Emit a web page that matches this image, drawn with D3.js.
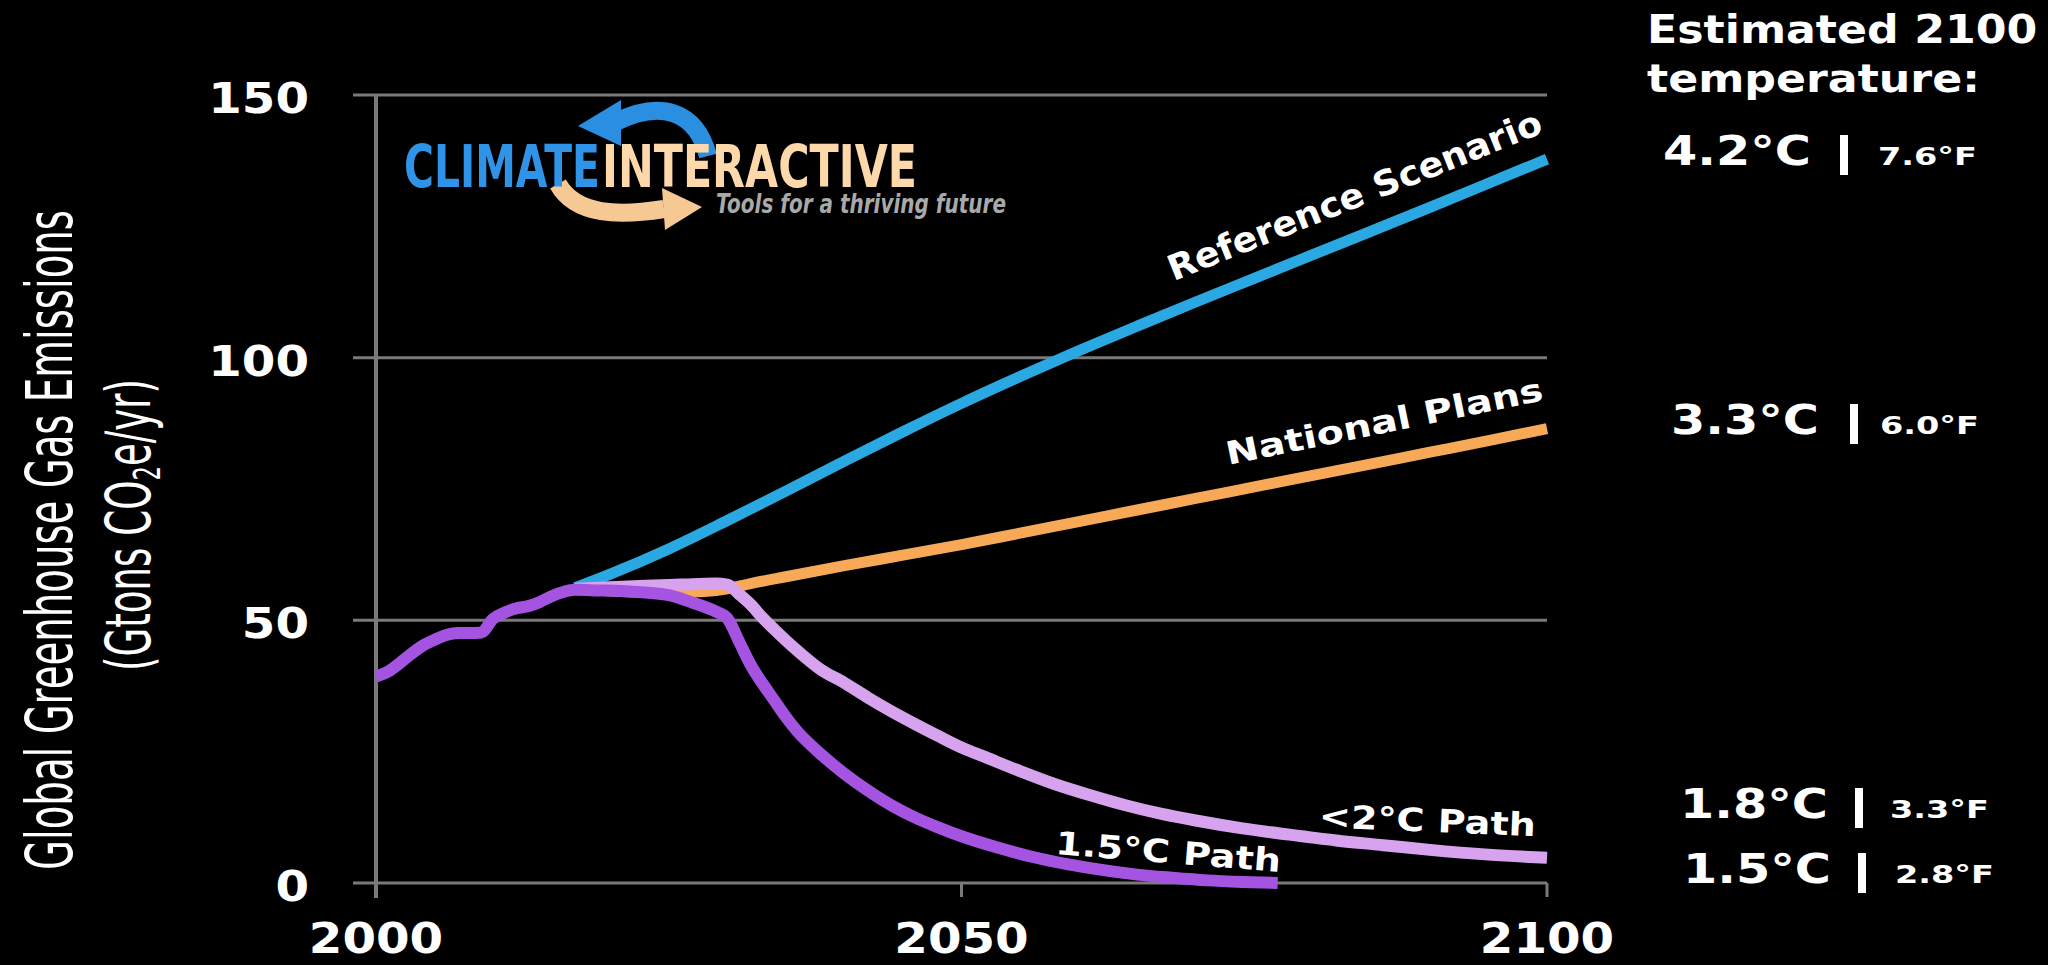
<!DOCTYPE html>
<html>
<head>
<meta charset="utf-8">
<script src="https://cdn.jsdelivr.net/npm/d3@7"></script>
<style>
  html, body { margin: 0; padding: 0; background: #000; overflow: hidden; }
  text { font-family: "DejaVu Sans", Verdana, sans-serif; fill: #fff; }
</style>
</head>
<body>
<div id="chart"></div>
<script>
// ---- Data ----
var xTicks = [2000, 2050, 2100];
var yTicks = [0, 50, 100, 150];

// 1.5°C path (includes history 2000-2017)
var years15 = [2000, 2001, 2002, 2003, 2004, 2005, 2006, 2007, 2008, 2009, 2010, 2011, 2012, 2013, 2014, 2015, 2016, 2017,
  2019, 2021, 2023, 2025, 2027, 2029, 2030, 2031, 2032, 2033, 2034, 2035, 2036, 2038, 2040, 2042, 2044, 2046, 2048, 2050,
  2053, 2056, 2059, 2062, 2065, 2068, 2071, 2074, 2077];
var values15 = [39.3, 40.2, 41.8, 43.6, 45.2, 46.3, 47.2, 47.6, 47.6, 47.7, 50.3, 51.5, 52.3, 52.7, 53.5, 54.6, 55.4, 55.8,
  55.7, 55.6, 55.3, 54.8, 53.4, 51.7, 50.4, 46.0, 41.5, 38.0, 34.8, 31.6, 28.8, 24.5, 20.8, 17.6, 14.8, 12.5, 10.6, 8.9,
  6.8, 5.0, 3.6, 2.5, 1.6, 1.0, 0.5, 0.2, 0.0];

// <2°C path
var years2 = [2017, 2020, 2023, 2026, 2029, 2030, 2031, 2032, 2033, 2034, 2035, 2036, 2038, 2040, 2042, 2044, 2046, 2048,
  2050, 2052, 2055, 2058, 2061, 2064, 2067, 2070, 2074, 2078, 2082, 2086, 2090, 2095, 2100];
var values2 = [56.0, 56.3, 56.6, 56.8, 57.0, 56.8, 55.0, 53.0, 50.5, 48.3, 46.2, 44.2, 40.6, 38.1, 35.3, 32.7, 30.3, 28.0,
  25.8, 24.0, 21.3, 18.8, 16.7, 14.8, 13.2, 11.9, 10.4, 9.2, 8.1, 7.2, 6.3, 5.4, 4.8];

// Reference scenario
var refYears = [2017, 2020, 2025, 2030, 2035, 2040, 2045, 2050, 2055, 2060, 2065, 2070, 2075, 2080, 2085, 2090, 2095, 2100];
var refValues = [56.2, 58.8, 63.6, 69.0, 74.6, 80.3, 85.9, 91.3, 96.4, 101.3, 106.0, 110.6, 115.1, 119.6, 124.1, 128.6, 133.2, 137.8];

// National plans
var planYears = [2017, 2020, 2025, 2028, 2030, 2032, 2035, 2040, 2045, 2050, 2055, 2060, 2065, 2070, 2075, 2080, 2085, 2090, 2095, 2100];
var planValues = [56.0, 55.6, 55.3, 55.5, 56.0, 57.0, 58.3, 60.4, 62.4, 64.4, 66.6, 68.8, 71.0, 73.2, 75.4, 77.6, 79.8, 82.0, 84.2, 86.5];

var seriesNames = ["Reference Scenario", "National Plans", "<2°C Path", "1.5°C Path"];
var tempC = ["4.2°C", "3.3°C", "1.8°C", "1.5°C"];
var tempF = ["7.6°F", "6.0°F", "3.3°F", "2.8°F"];

// ---- Layout ----
var width = 2048, height = 965;
var SX = 1.15;   // the reference is stretched horizontally

var svg = d3.select("#chart").append("svg")
    .attr("width", width)
    .attr("height", height)
    .style("background", "#000");

var x = d3.scaleLinear().domain([2000, 2100]).range([376, 1547]);
var y = d3.scaleLinear().domain([0, 150]).range([883, 95]);

function valueAt(yrs, vals, yr) {
  var i = d3.bisectLeft(yrs, yr);
  if (i <= 0) return vals[0];
  if (i >= yrs.length) return vals[vals.length - 1];
  var t = (yr - yrs[i - 1]) / (yrs[i] - yrs[i - 1]);
  return vals[i - 1] + t * (vals[i] - vals[i - 1]);
}

// Gridlines
svg.append("g").selectAll("line")
  .data(yTicks).enter().append("line")
    .attr("x1", x(2000) - 23)
    .attr("x2", x(2100))
    .attr("y1", function(d) { return y(d); })
    .attr("y2", function(d) { return y(d); })
    .attr("stroke", "#7a7a7a")
    .attr("stroke-width", 3);

// Vertical axis line + bottom ticks
svg.append("line")
    .attr("x1", x(2000)).attr("x2", x(2000))
    .attr("y1", y(150)).attr("y2", y(0) + 15)
    .attr("stroke", "#7a7a7a").attr("stroke-width", 4);

svg.append("g").selectAll("line")
  .data(xTicks.slice(1)).enter().append("line")
    .attr("x1", function(d) { return x(d); })
    .attr("x2", function(d) { return x(d); })
    .attr("y1", y(0)).attr("y2", y(0) + 14)
    .attr("stroke", "#7a7a7a").attr("stroke-width", 3);

// Axis tick labels
var yAxis = d3.axisLeft(y).tickValues(yTicks).tickSize(0);
var yAxisG = svg.append("g")
    .attr("transform", "translate(" + x(2000) + ",0)")
    .call(yAxis);
yAxisG.select(".domain").remove();
yAxisG.selectAll("text")
    .attr("x", -67 / SX)
    .attr("dy", "0.42em")
    .attr("transform", "scale(" + SX + ",1)")
    .attr("font-size", 42)
    .attr("font-weight", "bold")
    .attr("font-family", "DejaVu Sans")
    .attr("fill", "#fff");

var xAxis = d3.axisBottom(x).tickValues(xTicks).tickSize(0).tickFormat(d3.format("d"));
var xAxisG = svg.append("g")
    .attr("transform", "translate(0," + y(0) + ")")
    .call(xAxis);
xAxisG.select(".domain").remove();
xAxisG.selectAll("text")
    .attr("y", 70)
    .attr("dy", 0)
    .attr("transform", "scale(" + SX + ",1)")
    .attr("font-size", 42)
    .attr("font-weight", "bold")
    .attr("font-family", "DejaVu Sans")
    .attr("fill", "#fff");
xAxisG.selectAll(".tick")
    .attr("transform", function(d) { return "translate(" + x(d) + ",0)"; });

// Y axis title (two lines, rotated)
svg.append("text")
    .attr("transform", "translate(72,540) rotate(-90)")
    .attr("text-anchor", "middle")
    .attr("font-family", "'Liberation Sans Narrow', 'Liberation Sans', sans-serif")
    .attr("font-size", 64)
    .attr("textLength", 660)
    .attr("lengthAdjust", "spacingAndGlyphs")
    .text("Global Greenhouse Gas Emissions");

var yTitle2 = svg.append("text")
    .attr("transform", "translate(150,525) rotate(-90)")
    .attr("text-anchor", "middle")
    .attr("font-family", "'Liberation Sans Narrow', 'Liberation Sans', sans-serif")
    .attr("font-size", 62)
    .attr("textLength", 292)
    .attr("lengthAdjust", "spacingAndGlyphs");
yTitle2.append("tspan").text("(Gtons CO");
yTitle2.append("tspan").attr("font-size", 38).attr("dy", 10).text("2");
yTitle2.append("tspan").attr("dy", -10).text("e/yr)");

// Logo (Climate Interactive)
var logo = svg.append("g").attr("class", "logo");
logo.append("path")
    .attr("d", "M708,156 C696,110 660,100 616,122")
    .attr("fill", "none").attr("stroke", "#2a8fe0").attr("stroke-width", 18);
logo.append("path")
    .attr("d", "M621,100 L621,146 L578,126 Z")
    .attr("fill", "#2a8fe0");
logo.append("path")
    .attr("d", "M558,184 C576,216 620,216 664,209")
    .attr("fill", "none").attr("stroke", "#f6c994").attr("stroke-width", 18);
logo.append("path")
    .attr("d", "M662,188 L665,230 L702,207 Z")
    .attr("fill", "#f6c994");
logo.append("text")
    .attr("x", 404).attr("y", 187)
    .attr("font-family", "'Liberation Sans Narrow', 'Liberation Sans', sans-serif")
    .attr("font-weight", "bold")
    .attr("font-size", 58)
    .attr("textLength", 196)
    .attr("lengthAdjust", "spacingAndGlyphs")
    .style("fill", "#2f93e8")
    .text("CLIMATE");
logo.append("text")
    .attr("x", 602).attr("y", 187)
    .attr("font-family", "'Liberation Sans Narrow', 'Liberation Sans', sans-serif")
    .attr("font-weight", "bold")
    .attr("font-size", 58)
    .attr("textLength", 315)
    .attr("lengthAdjust", "spacingAndGlyphs")
    .style("fill", "#fcd8aa")
    .text("INTERACTIVE");
logo.append("text")
    .attr("x", 716).attr("y", 213)
    .attr("font-family", "'Liberation Sans Narrow', 'Liberation Sans', sans-serif")
    .attr("font-weight", "bold")
    .attr("font-style", "italic")
    .attr("font-size", 27)
    .attr("textLength", 290)
    .attr("lengthAdjust", "spacingAndGlyphs")
    .style("fill", "#a9a9a9")
    .text("Tools for a thriving future");

// Lines
var series = [
  { years: refYears, values: refValues, color: "#2aa8e2", w: 11 },
  { years: planYears, values: planValues, color: "#f8a957", w: 11 },
  { years: years2, values: values2, color: "#d7a3ef", w: 12 },
  { years: years15, values: values15, color: "#a554e2", w: 12 }
];

var line = d3.line()
    .x(function(d) { return x(d[0]); })
    .y(function(d) { return y(d[1]); })
    .curve(d3.curveMonotoneX);

svg.append("g").selectAll("path")
  .data(series).enter().append("path")
    .attr("d", function(s) { return line(d3.zip(s.years, s.values)); })
    .attr("fill", "none")
    .attr("stroke", function(s) { return s.color; })
    .attr("stroke-width", function(s) { return s.w; })
    .attr("stroke-linejoin", "round");

// Labels along the lines (anchored at their right end)
var lineLabels = [
  { s: 0, year: 2099.8, dy: -28, angle: -21.9, size: 35, len: 400 },
  { s: 1, year: 2099.8, dy: -29, angle: -11.6, size: 32, len: 323 },
  { s: 2, year: 2099, dy: -21, angle: 2.4, size: 32, len: 217 },
  { s: 3, year: 2077.2, dy: -11, angle: 4.6, size: 32, len: 226 }
];

svg.append("g").selectAll("text")
  .data(lineLabels).enter().append("text")
    .attr("transform", function(d) {
      var sr = series[d.s];
      var px = x(d.year), py = y(valueAt(sr.years, sr.values, d.year)) + d.dy;
      return "translate(" + px + "," + py + ") rotate(" + d.angle + ")";
    })
    .attr("text-anchor", "end")
    .attr("font-weight", "bold")
    .attr("font-size", function(d) { return d.size; })
    .attr("textLength", function(d) { return d.len; })
    .attr("lengthAdjust", "spacingAndGlyphs")
    .text(function(d) { return seriesNames[d.s]; });

// Right-hand temperature panel
var head = svg.append("g");
head.append("text")
    .attr("transform", "translate(1647,43) scale(" + SX + ",1)")
    .attr("font-weight", "bold").attr("font-size", 38.5)
    .text("Estimated 2100");
head.append("text")
    .attr("transform", "translate(1647,92) scale(" + SX + ",1)")
    .attr("font-weight", "bold").attr("font-size", 38.5)
    .text("temperature:");

var rows = [
  { y: 165, x: 1663, bar: 1844, fx: 1878 },
  { y: 434, x: 1671, bar: 1854, fx: 1880 },
  { y: 818, x: 1680, bar: 1859, fx: 1890 },
  { y: 883, x: 1683, bar: 1862, fx: 1895 }
];

var rowG = svg.append("g").selectAll("g")
  .data(rows).enter().append("g");

rowG.append("text")
    .attr("x", function(d) { return d.x; })
    .attr("y", function(d) { return d.y; })
    .attr("font-size", 40)
    .attr("font-weight", "bold")
    .attr("textLength", 148)
    .attr("lengthAdjust", "spacingAndGlyphs")
    .text(function(d, i) { return tempC[i]; });

rowG.append("rect")
    .attr("x", function(d) { return d.bar - 4; })
    .attr("y", function(d) { return d.y - 30; })
    .attr("width", 8)
    .attr("height", 40)
    .attr("fill", "#fff");

rowG.append("text")
    .attr("x", function(d) { return d.fx; })
    .attr("y", function(d) { return d.y; })
    .attr("font-size", 25)
    .attr("font-weight", "bold")
    .attr("textLength", 99)
    .attr("lengthAdjust", "spacingAndGlyphs")
    .text(function(d, i) { return tempF[i]; });
</script>
</body>
</html>
